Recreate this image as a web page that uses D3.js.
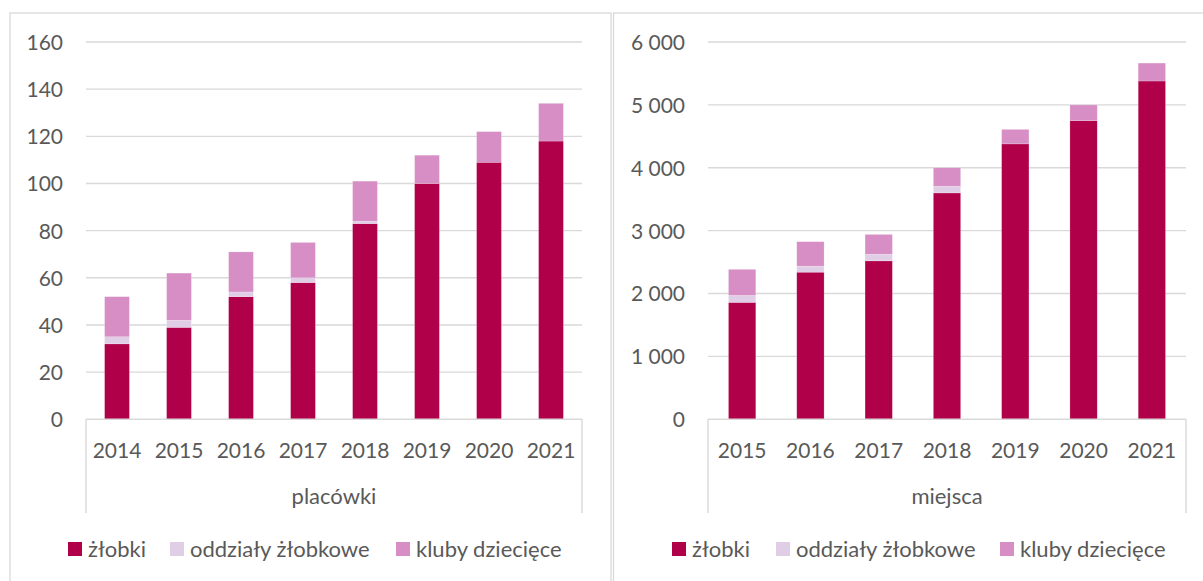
<!DOCTYPE html>
<html>
<head>
<meta charset="utf-8">
<script src="https://cdn.jsdelivr.net/npm/d3@7"></script>
<style>
  html, body { margin: 0; padding: 0; background: #fff; }
  svg { display: block; }
  text { font-family: Lato, "Open Sans", sans-serif; fill: #595959; }
</style>
</head>
<body>
<svg id="chart" width="1203" height="581"></svg>
<script>
// ---- Data ----
const seriesNames = ["żłobki", "oddziały żłobkowe", "kluby dziecięce"];

const yearsPlacowki = ["2014", "2015", "2016", "2017", "2018", "2019", "2020", "2021"];
const placowkiZlobki   = [32, 39, 52, 58, 83, 100, 109, 118];
const placowkiOddzialy = [3, 3, 2, 2, 1, 0, 0, 0];
const placowkiKluby    = [17, 20, 17, 15, 17, 12, 13, 16];
const placowkiTicks    = [0, 20, 40, 60, 80, 100, 120, 140, 160];

const yearsMiejsca = ["2015", "2016", "2017", "2018", "2019", "2020", "2021"];
const miejscaZlobki   = [1860, 2340, 2520, 3600, 4380, 4750, 5380];
const miejscaOddzialy = [110, 95, 105, 105, 0, 0, 0];
const miejscaKluby    = [415, 390, 315, 295, 230, 250, 285];
const miejscaTicks    = [0, 1000, 2000, 3000, 4000, 5000, 6000];

const panelTitles = ["placówki", "miejsca"];

// ---- Styles ----
const colors = ["#AF0049", "#E0CDE6", "#D68EC4"];
const gridColor = "#D9D9D9";
const svg = d3.select("#chart");

// panel frames
svg.append("rect").attr("x", 10).attr("y", 13).attr("width", 601).attr("height", 600)
  .attr("fill", "none").attr("stroke", gridColor).attr("stroke-width", 1.3);
svg.append("rect").attr("x", 613.5).attr("y", 13).attr("width", 600).attr("height", 600)
  .attr("fill", "none").attr("stroke", gridColor).attr("stroke-width", 1.3);

function fmt(v) {
  return d3.format(",")(v).replace(/,/g, "\u00A0");
}

function drawPanel(cfg) {
  const g = svg.append("g");
  const x = d3.scaleBand().domain(cfg.years).range([cfg.x0, cfg.x1]).padding(0);
  const y = d3.scaleLinear().domain([0, cfg.ticks[cfg.ticks.length - 1]]).range([419.3, 42]);

  // gridlines
  g.append("g").selectAll("line").data(cfg.ticks.slice(1)).join("line")
    .attr("x1", cfg.x0).attr("x2", cfg.x1)
    .attr("y1", d => y(d)).attr("y2", d => y(d))
    .attr("stroke", gridColor).attr("stroke-width", 1.4);

  // y labels
  const yAxis = d3.axisLeft(y).tickValues(cfg.ticks).tickFormat(fmt).tickSize(0).tickPadding(0);
  const ya = g.append("g").attr("transform", `translate(${cfg.labelRight},0)`).call(yAxis);
  ya.select(".domain").remove();
  ya.selectAll("text").style("font-family", "Lato, sans-serif").style("font-size", "21px")
    .attr("fill", "#595959").attr("dy", "0.35em");

  // stacked bars
  const rows = cfg.years.map((yr, i) => ({ year: yr, a: cfg.s[0][i], b: cfg.s[1][i], c: cfg.s[2][i] }));
  const stack = d3.stack().keys(["a", "b", "c"])(rows);
  const bw = x.bandwidth() * 0.4;
  stack.forEach((layer, li) => {
    g.append("g").selectAll("rect").data(layer).join("rect")
      .attr("x", d => x(d.data.year) + (x.bandwidth() - bw) / 2)
      .attr("width", bw)
      .attr("y", d => y(d[1]))
      .attr("height", d => Math.max(0, y(d[0]) - y(d[1])))
      .attr("fill", colors[li])
      .attr("stroke", d => (d[1] - d[0]) > 0 ? "#fff" : "none")
      .attr("stroke-opacity", 0.35)
      .attr("stroke-width", 0.6);
  });

  // category axis (multi-level)
  const xa = g.append("g").attr("transform", "translate(0,419.3)")
    .call(d3.axisBottom(x).tickSize(0).tickPadding(0));
  xa.select(".domain").remove();
  xa.selectAll("text").style("font-family", "Lato, sans-serif").style("font-size", "21px")
    .attr("fill", "#595959").attr("y", 31).attr("dy", "0.35em");
  g.append("line").attr("x1", cfg.x0).attr("x2", cfg.x1).attr("y1", 419.3).attr("y2", 419.3)
    .attr("stroke", gridColor).attr("stroke-width", 1.4);
  [cfg.x0, cfg.x1].forEach(xx => {
    g.append("line").attr("x1", xx).attr("x2", xx).attr("y1", 419.3).attr("y2", 513)
      .attr("stroke", gridColor).attr("stroke-width", 1.4);
  });
  g.append("text").attr("x", (cfg.x0 + cfg.x1) / 2).attr("y", 496).attr("dy", "0.35em")
    .attr("text-anchor", "middle").style("font-size", "22px").text(cfg.title);

  // legend
  const lg = g.append("g");
  cfg.legendX.forEach((lx, i) => {
    lg.append("rect").attr("x", lx).attr("y", 542).attr("width", 14).attr("height", 14)
      .attr("fill", colors[i]);
    lg.append("text").attr("x", lx + 20).attr("y", 549).attr("dy", "0.35em")
      .style("font-size", "22px").text(seriesNames[i]);
  });
}

drawPanel({
  years: yearsPlacowki, s: [placowkiZlobki, placowkiOddzialy, placowkiKluby],
  ticks: placowkiTicks, x0: 86, x1: 582, labelRight: 63, title: panelTitles[0],
  legendX: [68, 170, 396]
});
drawPanel({
  years: yearsMiejsca, s: [miejscaZlobki, miejscaOddzialy, miejscaKluby],
  ticks: miejscaTicks, x0: 708, x1: 1186, labelRight: 685, title: panelTitles[1],
  legendX: [672, 776, 1000]
});
</script>
</body>
</html>
